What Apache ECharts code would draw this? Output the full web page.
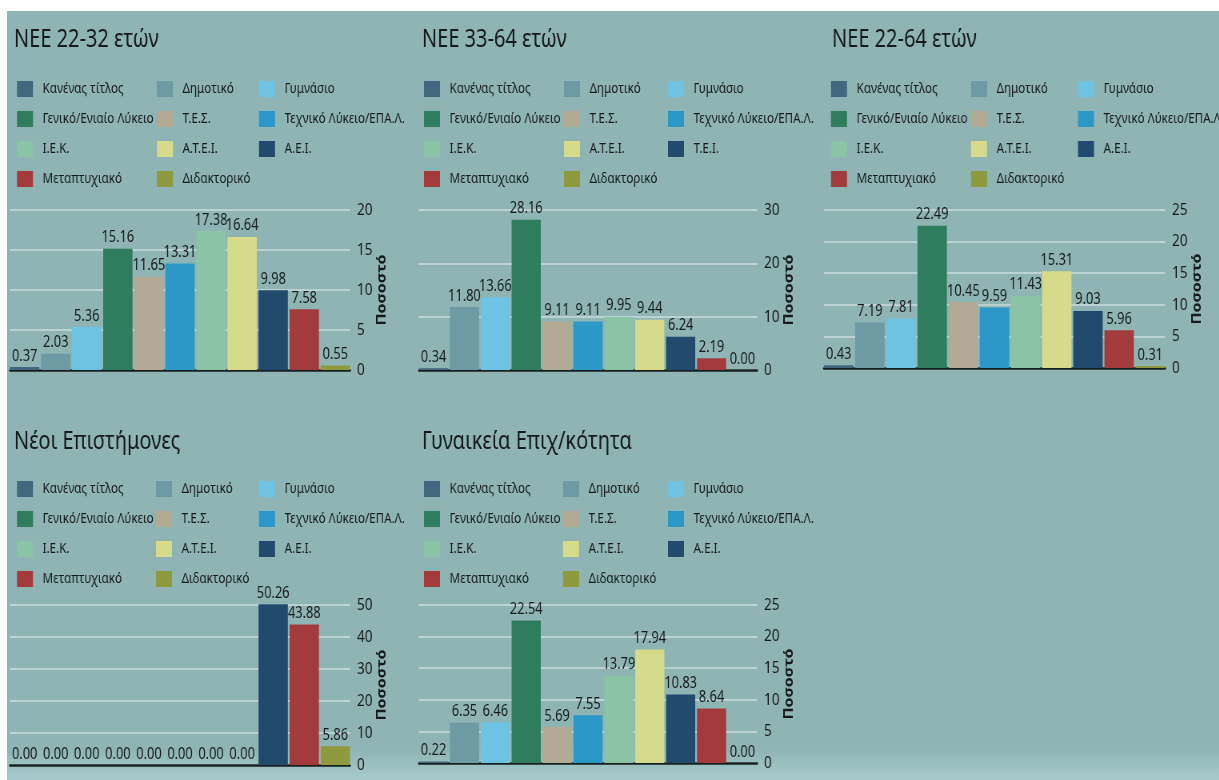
<!DOCTYPE html>
<html>
<head>
<meta charset="utf-8">
<script src="https://cdn.jsdelivr.net/npm/echarts@6/dist/echarts.min.js"></script>
<style>
html,body{margin:0;padding:0;background:#ffffff;width:1219px;height:780px;overflow:hidden;}
#bg{position:absolute;left:7px;top:11px;right:0;bottom:0;background:linear-gradient(to bottom,#8eb5b4 0%,#8eb5b4 96%,#a7cbcb 100%);}
#chart{position:absolute;left:0;top:0;width:1524px;height:780px;transform:scaleX(0.8);transform-origin:0 0;}
</style>
</head>
<body>
<div id="bg"></div>
<div id="chart"></div>
<script>
// ---- Data ----
const panelTitles = ['ΝΕΕ 22-32 ετών', 'ΝΕΕ 33-64 ετών', 'ΝΕΕ 22-64 ετών', 'Νέοι Επιστήμονες', 'Γυναικεία Επιχ/κότητα'];
const levels = ['Κανένας τίτλος', 'Δημοτικό', 'Γυμνάσιο', 'Γενικό/Ενιαίο Λύκειο', 'Τ.Ε.Σ.', 'Τεχνικό Λύκειο/ΕΠΑ.Λ.', 'Ι.Ε.Κ.', 'Α.Τ.Ε.Ι.', 'Α.Ε.Ι.', 'Μεταπτυχιακό', 'Διδακτορικό'];
const levels3364 = ['Κανένας τίτλος', 'Δημοτικό', 'Γυμνάσιο', 'Γενικό/Ενιαίο Λύκειο', 'Τ.Ε.Σ.', 'Τεχνικό Λύκειο/ΕΠΑ.Λ.', 'Ι.Ε.Κ.', 'Α.Τ.Ε.Ι.', 'Τ.Ε.Ι.', 'Μεταπτυχιακό', 'Διδακτορικό'];
const nee2232 = [0.37, 2.03, 5.36, 15.16, 11.65, 13.31, 17.38, 16.64, 9.98, 7.58, 0.55];
const nee3364 = [0.34, 11.80, 13.66, 28.16, 9.11, 9.11, 9.95, 9.44, 6.24, 2.19, 0.00];
const nee2264 = [0.43, 7.19, 7.81, 22.49, 10.45, 9.59, 11.43, 15.31, 9.03, 5.96, 0.31];
const neoiEpist = [0.00, 0.00, 0.00, 0.00, 0.00, 0.00, 0.00, 0.00, 50.26, 43.88, 5.86];
const gynaikeia = [0.22, 6.35, 6.46, 22.54, 5.69, 7.55, 13.79, 17.94, 10.83, 8.64, 0.00];
const yMax = [20, 30, 25, 50, 25];
const yStep = [5, 10, 5, 10, 5];
const axisName = 'Ποσοστό';

// ---- Styles / layout (canvas is drawn wide and squeezed horizontally by S) ----
const S = 0.8;
const X = v => v / S;
const colors = ['#41687f', '#6d9aa3', '#6fc3e2', '#2f7c5e', '#b3aa96', '#2b98c8', '#8ac3a6', '#d6da8b', '#224a6d', '#a33b3c', '#8f993d'];
const FONT = "'Noto Sans', sans-serif";
const panelValues = [nee2232, nee3364, nee2264, neoiEpist, gynaikeia];
const panelNames = [levels, levels3364, levels, levels, levels];
const grids = [
  {left: 10, top: 210, width: 340, height: 160},
  {left: 419, top: 210, width: 338, height: 160},
  {left: 824, top: 210, width: 341, height: 158},
  {left: 10, top: 605, width: 340, height: 160},
  {left: 419, top: 605, width: 338, height: 158}
];
const titlePos = [[14, 27], [422, 27], [832, 27], [14, 429], [422, 429]];
const legendCols = [[17, 157, 259], [424, 564, 668], [831, 971, 1078], [17, 156, 259], [424, 563, 668]];
const legendTop = [81, 81, 81, 481, 481];

const option = {
  animation: false,
  backgroundColor: 'transparent',
  title: [], legend: [], grid: [], xAxis: [], yAxis: [], series: []
};

for (let p = 0; p < 5; p++) {
  option.title.push({
    text: panelTitles[p], left: X(titlePos[p][0]), top: titlePos[p][1], padding: 0,
    textStyle: {fontFamily: FONT, fontSize: 25, fontWeight: 'normal', color: '#141a1a'}
  });
  const names = panelNames[p];
  const colGroups = [[0, 3, 6, 9], [1, 4, 7, 10], [2, 5, 8]];
  colGroups.forEach((g, c) => {
    option.legend.push({
      orient: 'vertical', left: X(legendCols[p][c]), top: legendTop[p], padding: 0,
      data: g.map(i => names[i]), icon: 'rect', itemWidth: X(16), itemHeight: 16, itemGap: 14,
      selectedMode: false,
      textStyle: {fontFamily: FONT, fontSize: 14.5, color: '#141a1a', lineHeight: 16, padding: [0, 0, 0, 7]}
    });
  });
  const g = grids[p];
  option.grid.push({left: X(g.left), top: g.top, width: X(g.width), height: g.height, containLabel: false});
  option.xAxis.push({
    type: 'category', gridIndex: p, data: [''],
    axisLine: {show: true, lineStyle: {color: '#15201f', width: 2.5}},
    axisTick: {show: false}, axisLabel: {show: false}, splitLine: {show: false}
  });
  option.yAxis.push({
    type: 'value', gridIndex: p, position: 'right', min: 0, max: yMax[p], interval: yStep[p],
    axisLine: {show: false}, axisTick: {show: false},
    axisLabel: {margin: X(7), fontFamily: FONT, fontSize: 17, color: '#141a1a'},
    splitLine: {show: true, lineStyle: {color: '#cadddc', width: 1.5}},
    name: axisName, nameLocation: 'middle', nameRotate: 90, nameGap: X(23),
    nameTextStyle: {fontFamily: FONT, fontSize: 16, fontWeight: 'bold', color: '#141a1a'}
  });
  panelValues[p].forEach((v, i) => {
    option.series.push({
      type: 'bar', name: names[i], xAxisIndex: p, yAxisIndex: p,
      data: [v], barGap: '6%', barCategoryGap: '0%', clip: false,
      itemStyle: {color: colors[i]},
      label: {show: true, position: 'top', distance: 3, fontFamily: FONT, fontSize: 16, color: '#141a1a',
        formatter: prm => Number(prm.value).toFixed(2)}
    });
  });
}

const chart = echarts.init(document.getElementById('chart'), null, {renderer: 'canvas'});
chart.setOption(option);
</script>
</body>
</html>
